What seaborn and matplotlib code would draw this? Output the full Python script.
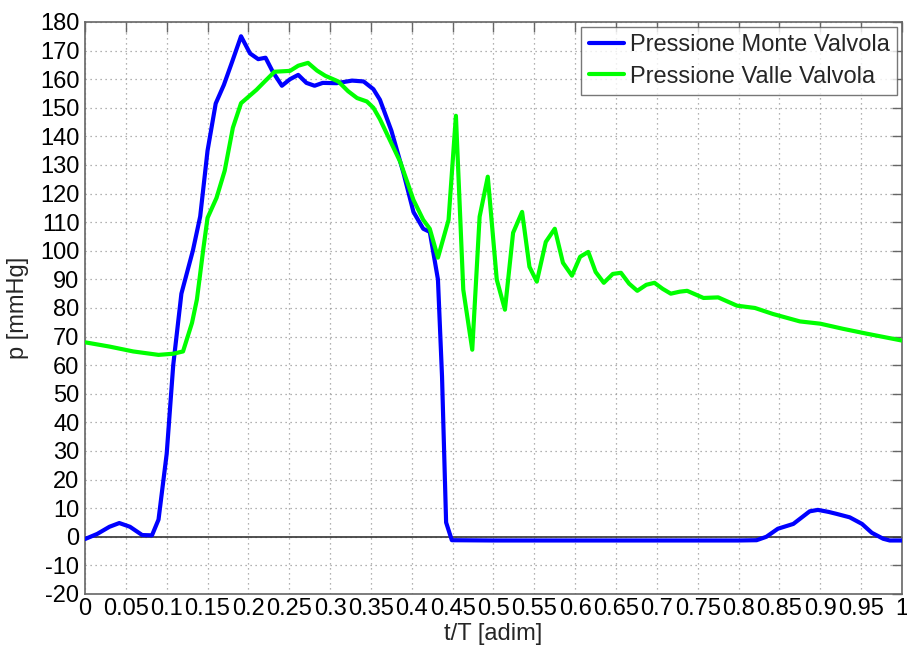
import matplotlib
matplotlib.use("Agg")
import matplotlib.pyplot as plt
import numpy as np
import pandas as pd
import seaborn as sns

# Upstream valve pressure (normalised time t/T, pressure in mmHg)
t_monte = [0.0, 0.015, 0.030, 0.042, 0.055, 0.070, 0.082, 0.090, 0.100, 0.108, 0.118,
           0.132, 0.141, 0.150, 0.160, 0.170, 0.180, 0.191, 0.202, 0.212, 0.221,
           0.230, 0.241, 0.251, 0.261, 0.271, 0.281, 0.291, 0.308, 0.327, 0.341,
           0.353, 0.361, 0.375, 0.390, 0.402, 0.414, 0.422, 0.432, 0.437, 0.442,
           0.449, 0.50, 0.55, 0.60, 0.65, 0.70, 0.75, 0.80, 0.822, 0.834, 0.848,
           0.867, 0.887, 0.897, 0.910, 0.920, 0.936, 0.951, 0.963, 0.977, 0.985, 1.0]
p_monte = [-0.8, 1.0, 3.5, 4.8, 3.5, 0.6, 0.5, 6.0, 29.0, 60.0, 85.0,
           100.0, 112.0, 135.0, 151.5, 158.0, 166.0, 175.0, 169.0, 167.0, 167.5,
           162.5, 157.7, 160.0, 161.5, 158.7, 157.7, 158.7, 158.6, 159.5, 159.2,
           156.5, 152.8, 142.0, 127.0, 113.6, 107.7, 106.6, 90.0, 56.0, 5.0,
           -1.2, -1.3, -1.3, -1.3, -1.3, -1.3, -1.3, -1.3, -1.2, 0.0, 2.8,
           4.5, 8.9, 9.4, 8.7, 8.0, 6.8, 4.5, 1.4, -0.7, -1.3, -1.3]

# Downstream valve pressure
t_valle = [0.0, 0.030, 0.059, 0.090, 0.108, 0.120, 0.131, 0.137, 0.145, 0.150, 0.161,
           0.171, 0.181, 0.191, 0.210, 0.220, 0.232, 0.251, 0.261, 0.273, 0.284,
           0.294, 0.310, 0.322, 0.333, 0.345, 0.353, 0.361, 0.386, 0.402, 0.414,
           0.422, 0.432, 0.445, 0.454, 0.463, 0.474, 0.483, 0.493, 0.504, 0.514,
           0.524, 0.535, 0.544, 0.553, 0.564, 0.575, 0.585, 0.596, 0.606, 0.616,
           0.625, 0.635, 0.646, 0.656, 0.666, 0.676, 0.687, 0.697, 0.707, 0.717,
           0.728, 0.737, 0.757, 0.775, 0.798, 0.820, 0.842, 0.875, 0.900, 0.928,
           0.957, 1.0]
p_valle = [68.0, 66.5, 64.8, 63.6, 64.0, 64.8, 74.8, 83.0, 101.0, 111.5, 118.5,
           128.0, 143.0, 151.6, 156.3, 159.2, 162.6, 162.9, 164.7, 165.7, 163.0,
           161.2, 159.2, 155.8, 153.4, 152.2, 150.0, 146.0, 131.0, 117.8, 110.8,
           107.7, 97.6, 110.8, 147.2, 86.4, 65.4, 111.9, 125.9, 89.9, 79.4,
           106.3, 113.6, 94.4, 89.2, 103.1, 107.7, 95.8, 91.3, 97.9, 99.6,
           92.6, 88.8, 91.9, 92.3, 88.5, 86.0, 88.1, 88.8, 86.7, 85.0,
           85.7, 86.0, 83.5, 83.7, 80.8, 80.0, 77.9, 75.3, 74.5, 72.7,
           71.0, 68.6]

series_names = ["Pressione Monte Valvola", "Pressione Valle Valvola"]
series_colors = ["#0000ff", "#00ff00"]

x_ticks = np.round(np.arange(0, 1.0001, 0.05), 2)
x_tick_labels = ["0", "0.05", "0.1", "0.15", "0.2", "0.25", "0.3", "0.35", "0.4",
                 "0.45", "0.5", "0.55", "0.6", "0.65", "0.7", "0.75", "0.8",
                 "0.85", "0.9", "0.95", "1"]
y_ticks = list(range(-20, 181, 10))

df = pd.concat([
    pd.DataFrame({"t": t_monte, "p": p_monte, "serie": series_names[0]}),
    pd.DataFrame({"t": t_valle, "p": p_valle, "serie": series_names[1]}),
], ignore_index=True)

sns.set_style("white")
plt.rcParams["font.family"] = ["Liberation Sans", "DejaVu Sans"]
plt.rcParams["axes.unicode_minus"] = False

FS = 17

fig = plt.figure(figsize=(9.07, 6.5), dpi=100)
ax = fig.add_axes([0.0937, 0.0862, 0.9008, 0.8800])

# zero reference line
ax.axhline(0, color="#333333", lw=1.2, zorder=1)

sns.lineplot(data=df, x="t", y="p", hue="serie", hue_order=series_names,
             palette=series_colors, sort=False, estimator=None, lw=3,
             ax=ax, zorder=3)

ax.set_xlim(0, 1)
ax.set_ylim(-20, 180)
ax.set_xticks(x_ticks)
ax.set_xticklabels(x_tick_labels)
ax.set_yticks(y_ticks)
ax.tick_params(axis="both", which="both", direction="in", length=7, width=1,
               labelsize=FS, color="#666666", top=True, right=True,
               labelcolor="black")
ax.tick_params(axis="x", pad=3)
ax.tick_params(axis="y", pad=4)
ax.grid(True, linestyle=(0, (1, 3)), color="#999999", lw=0.9)
for s in ax.spines.values():
    s.set_visible(True)
    s.set_color("#666666")
    s.set_linewidth(1.2)

ax.set_xlabel("t/T [adim]", fontsize=FS, labelpad=2)
ax.set_ylabel("p [mmHg]", fontsize=FS, labelpad=8)

leg = ax.legend(loc="upper right", fontsize=FS, frameon=True, fancybox=False,
                edgecolor="#555555", borderpad=0.3, handlelength=1.5,
                handletextpad=0.25, labelspacing=0.4, borderaxespad=0.22)
leg.get_frame().set_linewidth(1.0)
for line in leg.get_lines():
    line.set_linewidth(3)

fig.savefig("out.png", dpi=100, facecolor="white")
